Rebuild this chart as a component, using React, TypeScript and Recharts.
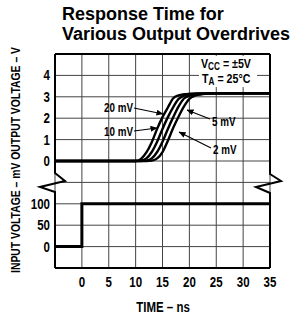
import React from 'react';
import { LineChart, Line, XAxis, YAxis, CartesianGrid } from 'recharts';

// output response (V) for each overdrive
const outTime = [-5, 0, 5, 10, 11, 12, 13, 14, 15, 16, 17, 18, 19, 20, 21, 22, 23, 25, 30, 35];
const out20mV = [0, 0, 0, 0, 0.1, 0.4, 0.88, 1.5, 2.05, 2.5, 2.93, 3.07, 3.12, 3.14, 3.15, 3.16, 3.16, 3.16, 3.16, 3.16];
const out10mV = [0, 0, 0, 0, 0.02, 0.12, 0.42, 0.9, 1.5, 2.05, 2.52, 2.9, 3.06, 3.11, 3.14, 3.15, 3.16, 3.16, 3.16, 3.16];
const out5mV = [0, 0, 0, 0, 0, 0.02, 0.12, 0.42, 0.9, 1.5, 2.05, 2.55, 2.92, 3.05, 3.1, 3.13, 3.15, 3.16, 3.16, 3.16];
const out2mV = [0, 0, 0, 0, 0, 0, 0.02, 0.12, 0.42, 0.95, 1.55, 2.08, 2.55, 2.9, 3.05, 3.11, 3.14, 3.16, 3.16, 3.16];

// input step (mV)
const inTime = [-5, 0, 0, 35];
const inMV = [0, 0, 100, 100];

const xTicks = [-5, 0, 5, 10, 15, 20, 25, 30, 35];
// one stacked scale: 0..4 is the input panel, 4..10 the output panel
const yTicks = [0, 1, 2, 3, 4, 5, 6, 7, 8, 9, 10];
const yTickLabels = ['', '0', '50', '100', '', '0', '1', '2', '3', '4', ''];

const toOut = (v: number) => v + 5;
const toIn = (mv: number) => (mv + 50) / 50;

const outSeries = [out20mV, out10mV, out5mV, out2mV].map((vals) =>
  vals.map((v, i) => ({ t: outTime[i], u: toOut(v) }))
);
const inSeries = inMV.map((mv, i) => ({ t: inTime[i], u: toIn(mv) }));

const W = 299;
const H = 317;
const L = 55;
const T = 54;
const PW = 215;
const PH = 214;

const FONT = '"Liberation Sans", Arial, sans-serif';
const SQ = 0.82; // squeeze to fake a narrow face

// condensed bold text
function NText(props: { x: number; y: number; size: number; anchor?: string; children: React.ReactNode }) {
  const { x, y, size, anchor = 'start', children } = props;
  return (
    <text
      transform={`translate(${x},${y}) scale(${SQ},1)`}
      textAnchor={anchor}
      fontFamily={FONT}
      fontWeight={700}
      fontSize={size}
      fill="#000"
    >
      {children}
    </text>
  );
}

function XTick(props: any) {
  const { x, y, payload } = props;
  const v = payload.value as number;
  if (v < 0) return null;
  return <NText x={x} y={y + 11} size={14} anchor="middle">{String(v)}</NText>;
}

function YTick(props: any) {
  const { x, y, payload } = props;
  const label = yTickLabels[yTicks.indexOf(payload.value)] ?? '';
  if (!label) return null;
  return <NText x={x} y={y + 5} size={14} anchor="end">{label}</NText>;
}

function Overlay() {
  const R = L + PW;
  const B = T + PH;
  return (
    <svg width={W} height={H} style={{ position: 'absolute', left: 0, top: 0, pointerEvents: 'none' }}>
      <defs>
        <marker id="ah" markerWidth="7" markerHeight="6" refX="6.5" refY="3" orient="auto" markerUnits="userSpaceOnUse">
          <path d="M0,0 L7,3 L0,6 Z" fill="#000" />
        </marker>
      </defs>
      <text x={62} y={20} fontFamily={FONT} fontWeight={700} fontSize={18}>Response Time for</text>
      <text x={62} y={40} fontFamily={FONT} fontWeight={700} fontSize={18}>Various Output Overdrives</text>

      {/* frame with break marks */}
      <g stroke="#000" strokeWidth={2} fill="none">
        <line x1={L} y1={T} x2={R} y2={T} />
        <line x1={L} y1={B} x2={R} y2={B} />
        <polyline points={`${L},${T} ${L},173 65,181 40,187 ${L},192 ${L},${B}`} />
        <polyline points={`${R},${T} ${R},174 281,181 256,187 ${R},193 ${R},${B}`} />
      </g>

      <rect x={199} y={56} width={58} height={31} fill="#fff" />
      <text transform={`translate(201,68) scale(${SQ},1)`} fontFamily={FONT} fontWeight={700} fontSize={13}>
        V<tspan fontSize={10} dy={2}>CC</tspan><tspan dy={-2}> = ±5V</tspan>
      </text>
      <text transform={`translate(202,83) scale(${SQ},1)`} fontFamily={FONT} fontWeight={700} fontSize={13}>
        T<tspan fontSize={10} dy={2}>A</tspan><tspan dy={-2}> = 25°C</tspan>
      </text>

      <g stroke="#000" strokeWidth={1.2} markerEnd="url(#ah)">
        <line x1={134} y1={108} x2={163} y2={114} />
        <line x1={134} y1={131} x2={157} y2={128} />
        <line x1={210} y1={119} x2={187} y2={110} />
        <line x1={211} y1={148} x2={179} y2={132} />
      </g>
      <NText x={133} y={112} size={12} anchor="end">20 mV</NText>
      <NText x={133} y={136} size={12} anchor="end">10 mV</NText>
      <NText x={212} y={126} size={12}>5 mV</NText>
      <NText x={213} y={154} size={12}>2 mV</NText>

      <text
        transform="translate(20,160) rotate(-90)"
        textAnchor="middle"
        fontFamily={FONT}
        fontWeight={700}
        fontSize={12}
        textLength={226}
        lengthAdjust="spacingAndGlyphs"
      >
        INPUT VOLTAGE – mV  OUTPUT VOLTAGE – V
      </text>
      <NText x={163} y={312} size={14} anchor="middle">TIME – ns</NText>
    </svg>
  );
}

export default function App() {
  return (
    <div style={{ position: 'absolute', left: 0, top: 0, width: W, height: H, background: '#fff' }}>
      <LineChart width={W} height={H} margin={{ top: T, right: W - L - PW, bottom: H - T - PH - 30, left: 0 }}>
        <CartesianGrid stroke="#444" strokeWidth={1} />
        <XAxis
          dataKey="t"
          type="number"
          domain={[-5, 35]}
          ticks={xTicks}
          interval={0}
          axisLine={false}
          tickLine={false}
          height={30}
          tick={<XTick />}
          allowDataOverflow
        />
        <YAxis
          type="number"
          domain={[0, 10]}
          ticks={yTicks}
          interval={0}
          axisLine={false}
          tickLine={false}
          tickSize={3}
          width={L}
          tick={<YTick />}
          allowDataOverflow
        />
        {outSeries.map((d, i) => (
          <Line
            key={i}
            data={d}
            dataKey="u"
            type="monotone"
            stroke="#000"
            strokeWidth={2.4}
            dot={false}
            isAnimationActive={false}
          />
        ))}
        <Line data={inSeries} dataKey="u" type="linear" stroke="#000" strokeWidth={3} dot={false} isAnimationActive={false} />
      </LineChart>
      <Overlay />
    </div>
  );
}
